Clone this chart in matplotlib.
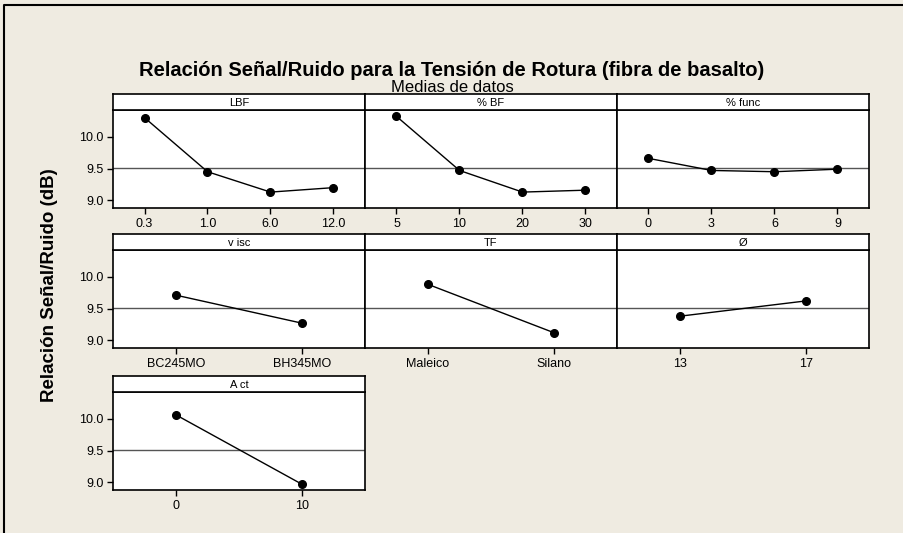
import matplotlib
matplotlib.use("Agg")
import matplotlib.pyplot as plt
from matplotlib.lines import Line2D

plt.rcParams['font.family'] = ['Liberation Sans', 'DejaVu Sans']

# data (S/N means, dB)
lbf_levels = ["0.3", "1.0", "6.0", "12.0"]
lbf_means = [10.30, 9.45, 9.13, 9.20]
bf_levels = ["5", "10", "20", "30"]
bf_means = [10.32, 9.47, 9.13, 9.16]
func_levels = ["0", "3", "6", "9"]
func_means = [9.66, 9.47, 9.45, 9.49]
visc_levels = ["BC245MO", "BH345MO"]
visc_means = [9.71, 9.27]
tf_levels = ["Maleico", "Silano"]
tf_means = [9.88, 9.12]
diam_levels = ["13", "17"]
diam_means = [9.38, 9.62]
act_levels = ["0", "10"]
act_means = [10.06, 8.97]
grand_mean = 9.515

factors = ["LBF", "% BF", "% func", "v isc", "TF", "Ø", "A ct"]
levels = [lbf_levels, bf_levels, func_levels, visc_levels, tf_levels, diam_levels, act_levels]
means = [lbf_means, bf_means, func_means, visc_means, tf_means, diam_means, act_means]

W, H = 904, 533
bg = '#efebe1'
fig = plt.figure(figsize=(W / 100, H / 100), dpi=100, facecolor=bg)

# outer frame: only the left and top edges show
fig.lines.append(Line2D([4 / W, 4 / W, 1.0], [0.0, 1 - 5 / H, 1 - 5 / H],
                        transform=fig.transFigure, color='black', linewidth=1.5))

fig.text(452 / W, 1 - 71 / H, "Relación Señal/Ruido para la Tensión de Rotura (fibra de basalto)",
         ha='center', va='center', fontsize=14.5, fontweight='bold')
fig.text(452 / W, 1 - 88 / H, "Medias de datos", ha='center', va='center', fontsize=12)
fig.text(50 / W, 1 - 285 / H, "Relación Señal/Ruido (dB)", rotation=90,
         ha='center', va='center', fontsize=13.5, fontweight='bold')

col_x = [113, 365, 617]
col_w = 252
row_top = [110, 250, 392]   # top of plotting area (px)
plot_h = 98
strip_h = 16

for i, (name, labs, vals) in enumerate(zip(factors, levels, means)):
    r, c = divmod(i, 3)
    x0 = col_x[c]
    y0 = row_top[r]
    ax = fig.add_axes([x0 / W, 1 - (y0 + plot_h) / H, col_w / W, plot_h / H])
    sx = fig.add_axes([x0 / W, 1 - y0 / H, col_w / W, strip_h / H])

    sx.set_xticks([])
    sx.set_yticks([])
    sx.set_facecolor('white')
    for s in sx.spines.values():
        s.set_linewidth(1.2)
    sx.text(0.5, 0.45, name, ha='center', va='center', fontsize=8, transform=sx.transAxes)

    pos = list(range(1, len(labs) + 1))
    ax.axhline(grand_mean, color='#555555', linewidth=1)
    ax.plot(pos, vals, color='black', linewidth=1, marker='o', markersize=5.5)
    ax.set_xlim(0.5, len(labs) + 0.5)
    ax.set_ylim(8.88, 10.42)
    ax.set_xticks(pos)
    ax.set_xticklabels(labs)
    ax.tick_params(axis='x', direction='out', length=4, width=1, labelsize=9, pad=3)
    if c == 0:
        ax.set_yticks([9.0, 9.5, 10.0])
        ax.set_yticklabels(["9.0", "9.5", "10.0"])
        ax.tick_params(axis='y', direction='out', length=4, width=1, labelsize=9, pad=3)
    else:
        ax.set_yticks([])
    for s in ax.spines.values():
        s.set_linewidth(1.2)

fig.savefig("out.png", dpi=100, facecolor=bg)
